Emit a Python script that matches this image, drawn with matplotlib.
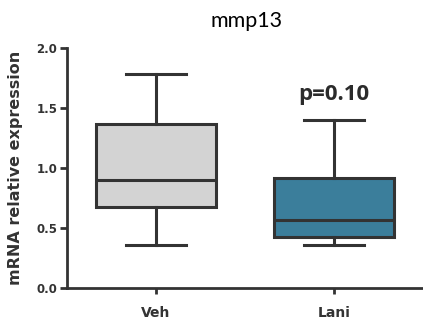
import matplotlib
matplotlib.use("Agg")
import matplotlib.pyplot as plt

groups = ["Veh", "Lani"]
whislo = [0.36, 0.36]
q1 = [0.675, 0.425]
med = [0.90, 0.567]
q3 = [1.367, 0.917]
whishi = [1.78, 1.40]
fills = ["#d3d3d3", "#3b7e9b"]
dark = "#333333"

plt.rcParams['font.family'] = ['DejaVu Sans']

fig = plt.figure(figsize=(4.23, 3.26), dpi=100)
ax = fig.add_axes([67 / 423, 1 - 288 / 326, 1 - 67 / 423, (288 - 48) / 326])

stats = []
for i, g in enumerate(groups):
    stats.append({"label": g, "whislo": whislo[i], "q1": q1[i], "med": med[i],
                  "q3": q3[i], "whishi": whishi[i], "fliers": []})

bp = ax.bxp(stats, positions=[0, 1], widths=0.67, patch_artist=True,
            showfliers=False,
            boxprops=dict(linewidth=2.2, edgecolor=dark),
            medianprops=dict(color=dark, linewidth=2.2),
            whiskerprops=dict(color=dark, linewidth=2.2),
            capprops=dict(color=dark, linewidth=2.2),
            capwidths=0.335)
for patch, c in zip(bp["boxes"], fills):
    patch.set_facecolor(c)

ax.set_xlim(-0.5, 1.5)
ax.set_ylim(0, 2.0)
ax.set_yticks([0.0, 0.5, 1.0, 1.5, 2.0])
ax.set_yticklabels(["0.0", "0.5", "1.0", "1.5", "2.0"])
ax.spines["top"].set_visible(False)
ax.spines["right"].set_visible(False)
for s in ["left", "bottom"]:
    ax.spines[s].set_linewidth(2.0)
    ax.spines[s].set_color(dark)
ax.tick_params(axis="both", width=2.0, color=dark, labelcolor=dark)
ax.tick_params(axis="y", labelsize=8.5, length=5, pad=2)
ax.tick_params(axis="x", labelsize=10, length=4, pad=9)
for lbl in ax.get_yticklabels() + ax.get_xticklabels():
    lbl.set_fontweight("bold")

ax.set_ylabel("mRNA relative expression", fontsize=11.5, fontweight="bold",
              color=dark)
ax.yaxis.set_label_coords(-44 / 356, 0.5)
fig.text(247 / 423, 1 - 21 / 326, "mmp13", ha="center", va="center",
         fontsize=15.5, family="Lato", color="black")
ax.text(1, 1.57, "p=0.10", ha="center", va="baseline", fontsize=16,
        fontweight="bold", family="Open Sans", color="#2b2b2b")

fig.savefig("out.png", dpi=100)
